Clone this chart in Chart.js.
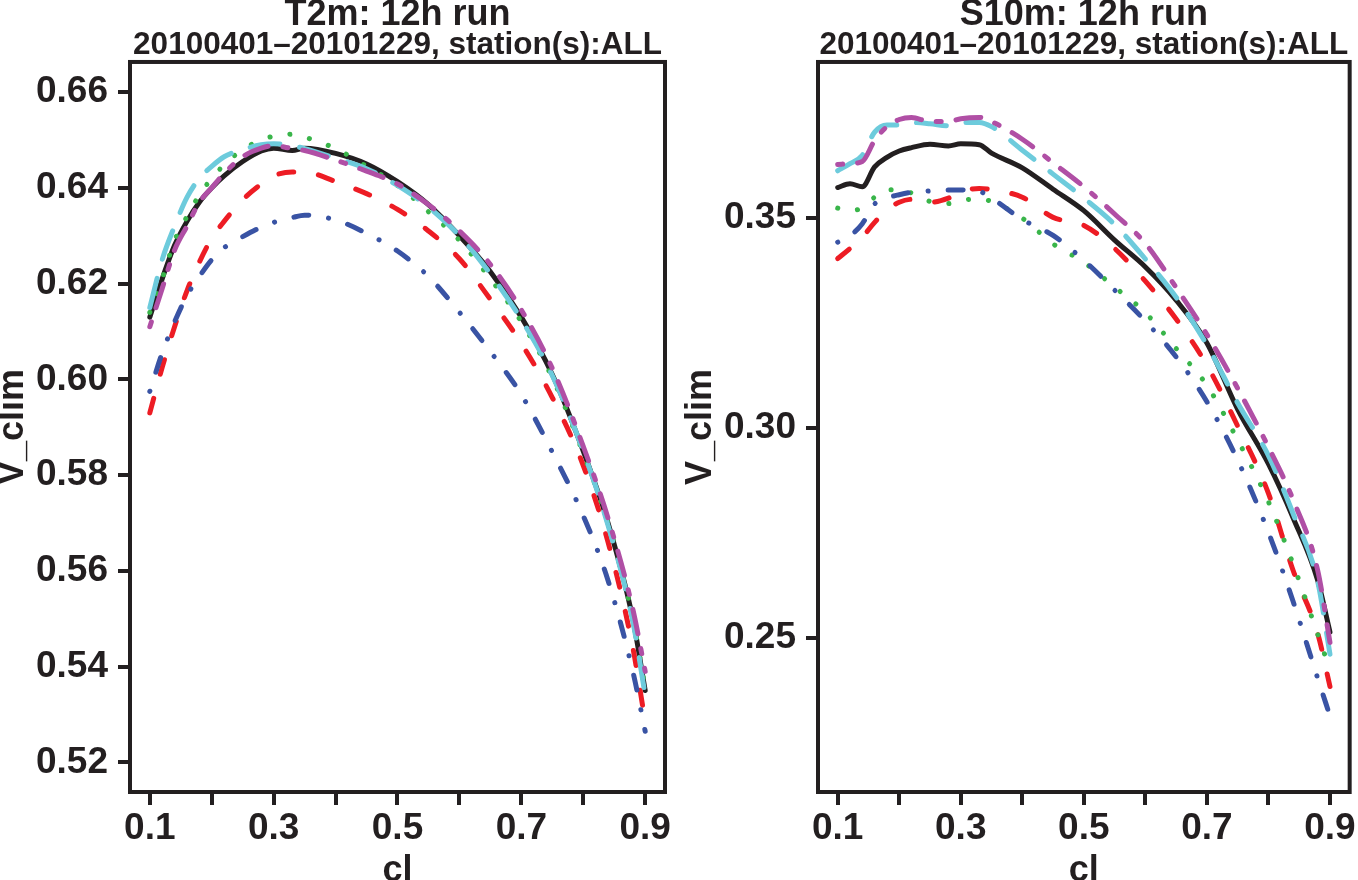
<!DOCTYPE html>
<html>
<head>
<meta charset="utf-8">
<script src="https://cdn.jsdelivr.net/npm/chart.js@4.4.1/dist/chart.umd.min.js"></script>
<style>
  body { margin: 0; background: #fff; }
  #left { position: absolute; left: 0; top: 0; }
  #right { position: absolute; left: 680px; top: 0; }
</style>
</head>
<body>
<canvas id="left" width="680" height="880"></canvas>
<canvas id="right" width="678" height="880"></canvas>
<script>
// cl values shared by every curve
const cl = [0.10, 0.12, 0.14, 0.16, 0.18, 0.20, 0.22, 0.25, 0.28, 0.30, 0.33, 0.35,
            0.40, 0.45, 0.50, 0.55, 0.60, 0.65, 0.70, 0.75, 0.80, 0.84, 0.88, 0.90];

// T2m panel
const t2mBlack   = [0.613, 0.621, 0.628, 0.633, 0.637, 0.640, 0.6425, 0.6455, 0.6477, 0.6483, 0.6478, 0.6483,
                    0.6472, 0.6450, 0.6413, 0.6365, 0.6300, 0.6225, 0.6130, 0.6010, 0.5850, 0.5700, 0.5500, 0.5350];
const t2mRed     = [0.593, 0.6025, 0.611, 0.6185, 0.6245, 0.6295, 0.633, 0.6375, 0.6408, 0.6425, 0.6433, 0.6433,
                    0.6413, 0.6388, 0.6355, 0.6310, 0.6252, 0.6167, 0.6075, 0.5962, 0.5820, 0.5660, 0.5440, 0.5285];
const t2mGreen   = [0.614, 0.621, 0.629, 0.634, 0.6385, 0.642, 0.6448, 0.648, 0.6500, 0.6508, 0.6512, 0.6506,
                    0.6482, 0.6445, 0.6405, 0.6350, 0.6290, 0.6210, 0.6120, 0.6003, 0.5845, 0.5700, 0.5500, 0.5355];
const t2mBlue    = [0.5975, 0.6055, 0.612, 0.6175, 0.6215, 0.6250, 0.6275, 0.6298, 0.6318, 0.6328, 0.6338, 0.6343,
                    0.6333, 0.6305, 0.6268, 0.6215, 0.6140, 0.6058, 0.5968, 0.5848, 0.5715, 0.5580, 0.5390, 0.5265];
const t2mCyan    = [0.615, 0.625, 0.632, 0.638, 0.642, 0.6445, 0.6465, 0.648, 0.6490, 0.6492, 0.6488, 0.6482,
                    0.6462, 0.6440, 0.6405, 0.6360, 0.6300, 0.6220, 0.6125, 0.6008, 0.5850, 0.5695, 0.5495, 0.5340];
const t2mMagenta = [0.611, 0.619, 0.627, 0.632, 0.637, 0.640, 0.643, 0.6465, 0.6483, 0.6488, 0.6482, 0.6478,
                    0.6458, 0.6435, 0.6408, 0.6365, 0.6310, 0.6240, 0.6145, 0.6023, 0.5860, 0.5710, 0.5520, 0.5390];

// S10m panel
const s10mBlack   = [0.3573, 0.3582, 0.3575, 0.3622, 0.3645, 0.3660, 0.3668, 0.3676, 0.3672, 0.3677, 0.3675, 0.3655,
                     0.3620, 0.3569, 0.3518, 0.3448, 0.3384, 0.3305, 0.3203, 0.3045, 0.2915, 0.2787, 0.2638, 0.2515];
const s10mRed     = [0.3404, 0.3428, 0.3455, 0.3490, 0.3520, 0.3538, 0.3545, 0.3538, 0.3548, 0.3563, 0.3571, 0.3568,
                     0.3550, 0.3502, 0.3483, 0.3428, 0.3350, 0.3260, 0.3150, 0.3005, 0.2845, 0.2662, 0.2512, 0.2385];
const s10mGreen   = [0.3524, 0.3518, 0.3525, 0.3550, 0.3568, 0.3568, 0.3560, 0.3540, 0.3535, 0.3543, 0.3545, 0.3540,
                     0.3500, 0.3439, 0.3395, 0.3336, 0.3275, 0.3190, 0.3102, 0.2972, 0.2825, 0.2677, 0.2510, 0.2425];
const s10mBlue    = [0.3443, 0.3458, 0.3487, 0.3534, 0.3548, 0.3556, 0.3562, 0.3565, 0.3567, 0.3567, 0.3564, 0.3548,
                     0.3497, 0.3459, 0.3400, 0.3329, 0.3255, 0.3170, 0.3063, 0.2924, 0.2752, 0.2588, 0.2405, 0.2315];
const s10mCyan    = [0.3613, 0.3630, 0.3650, 0.3705, 0.3722, 0.3722, 0.3728, 0.3725, 0.3720, 0.3727, 0.3728, 0.3718,
                     0.3662, 0.3605, 0.3548, 0.3485, 0.3403, 0.3312, 0.3198, 0.3060, 0.2935, 0.2797, 0.2635, 0.2462];
const s10mMagenta = [0.3628, 0.3630, 0.3635, 0.3685, 0.3718, 0.3735, 0.3740, 0.3730, 0.3730, 0.3737, 0.3740, 0.3730,
                     0.3688, 0.3632, 0.3575, 0.3510, 0.3440, 0.3335, 0.3223, 0.3095, 0.2955, 0.2830, 0.2662, 0.2490];

// ticks
const xTickValues = [0.1, 0.2, 0.3, 0.4, 0.5, 0.6, 0.7, 0.8, 0.9];
const xTickLabels = ['0.1', '', '0.3', '', '0.5', '', '0.7', '', '0.9'];
const t2mYTicks = [0.52, 0.54, 0.56, 0.58, 0.60, 0.62, 0.64, 0.66];
const s10mYTicks = [0.25, 0.30, 0.35];

const ink = '#231f20';
const lw = 5;
const u = 5;
const fontFamily = '"Liberation Sans", Arial, Helvetica, sans-serif';

Chart.defaults.font.family = fontFamily;
Chart.defaults.font.weight = 'bold';
Chart.defaults.color = ink;

// R style line types, lengths in units of u; round caps eat lw from each dash
function dash(pattern) {
    if (!pattern) return [];
    return pattern.map((v, i) => i % 2 === 0 ? Math.max(v * u - lw, 0.1) : v * u + lw);
}

const styles = [
    { color: ink,       pattern: null,         order: 6 },
    { color: '#ed1c24', pattern: [4, 4],       order: 5 },
    { color: '#39b54a', pattern: [1, 3],       order: 4 },
    { color: '#3953a4', pattern: [1, 3, 4, 3], order: 3 },
    { color: '#6dcbdc', pattern: [7, 3],       order: 2 },
    { color: '#b04fa5', pattern: [2, 2, 6, 2], order: 1 },
];

const framePlugin = {
    id: 'frame',
    afterDatasetsDraw(chart) {
        const { ctx, chartArea: a } = chart;
        ctx.save();
        ctx.lineWidth = 4;
        ctx.strokeStyle = ink;
        ctx.strokeRect(a.left, a.top, a.right - a.left, a.bottom - a.top);
        ctx.restore();
    }
};

function makePanel(canvasId, cfg) {
    const datasets = cfg.series.map((vals, k) => {
        const st = styles[k];
        return {
            data: cl.map((x, i) => ({ x: x, y: vals[i] })),
            borderColor: st.color,
            borderWidth: lw,
            borderDash: dash(st.pattern),
            borderCapStyle: 'round',
            borderJoinStyle: 'round',
            pointRadius: 0,
            cubicInterpolationMode: 'monotone',
            fill: false,
            order: st.order,
        };
    });
    const tickGrid = {
        display: true,
        drawOnChartArea: false,
        drawTicks: true,
        tickLength: 12,
        tickWidth: 4,
        tickColor: ink,
        lineWidth: 4,
        color: ink,
    };
    return new Chart(document.getElementById(canvasId), {
        type: 'line',
        data: { datasets: datasets },
        plugins: [framePlugin],
        options: {
            responsive: false,
            animation: false,
            events: [],
            layout: { padding: { left: 0, right: cfg.rightPad, top: 0, bottom: 0 } },
            plugins: {
                legend: { display: false },
                tooltip: { enabled: false },
                title: {
                    display: true,
                    text: cfg.title,
                    fullSize: false,
                    color: ink,
                    font: { size: 36, weight: 'bold', lineHeight: 0.82 },
                    padding: 0,
                },
                subtitle: {
                    display: true,
                    text: '20100401\u201320101229, station(s):ALL',
                    fullSize: false,
                    color: ink,
                    font: { size: 31.5, weight: 'bold', lineHeight: 1.03 },
                    padding: 0,
                },
            },
            scales: {
                x: {
                    type: 'linear',
                    min: 0.068,
                    max: 0.932,
                    border: { display: false },
                    grid: Object.assign({}, tickGrid, { tickLength: 13 }),
                    afterBuildTicks: scale => {
                        scale.ticks = xTickValues.map(v => ({ value: v }));
                    },
                    afterFit: scale => { scale.height = 88; },
                    ticks: {
                        autoSkip: false,
                        maxRotation: 0,
                        padding: 2,
                        color: ink,
                        font: { size: 37, weight: 'bold' },
                        callback: (v, i) => xTickLabels[i],
                    },
                    title: {
                        display: true,
                        text: 'cl',
                        color: ink,
                        font: { size: 36, weight: 'bold', lineHeight: 0.49 },
                        padding: 0,
                    },
                },
                y: {
                    type: 'linear',
                    min: cfg.yMin,
                    max: cfg.yMax,
                    border: { display: false },
                    grid: tickGrid,
                    afterBuildTicks: scale => {
                        scale.ticks = cfg.yTicks.map(v => ({ value: v }));
                    },
                    afterFit: scale => { scale.width = cfg.yWidth; },
                    ticks: {
                        padding: 10,
                        color: ink,
                        font: { size: 37, weight: 'bold' },
                        callback: v => v.toFixed(2),
                    },
                    title: {
                        display: true,
                        text: 'V_clim',
                        color: ink,
                        font: { size: 36, weight: 'bold', lineHeight: 0.72 },
                        padding: { top: cfg.yTitlePad, bottom: 0 },
                    },
                },
            },
        },
    });
}

makePanel('left', {
    title: 'T2m: 12h run',
    series: [t2mBlack, t2mRed, t2mGreen, t2mBlue, t2mCyan, t2mMagenta],
    yMin: 0.5138, yMax: 0.6663, yTicks: t2mYTicks,
    yWidth: 130, rightPad: 15, yTitlePad: 0,
});

makePanel('right', {
    title: 'S10m: 12h run',
    series: [s10mBlack, s10mRed, s10mGreen, s10mBlue, s10mCyan, s10mMagenta],
    yMin: 0.2134, yMax: 0.3872, yTicks: s10mYTicks,
    yWidth: 138, rightPad: 6, yTitlePad: 8,
});
</script>
</body>
</html>
